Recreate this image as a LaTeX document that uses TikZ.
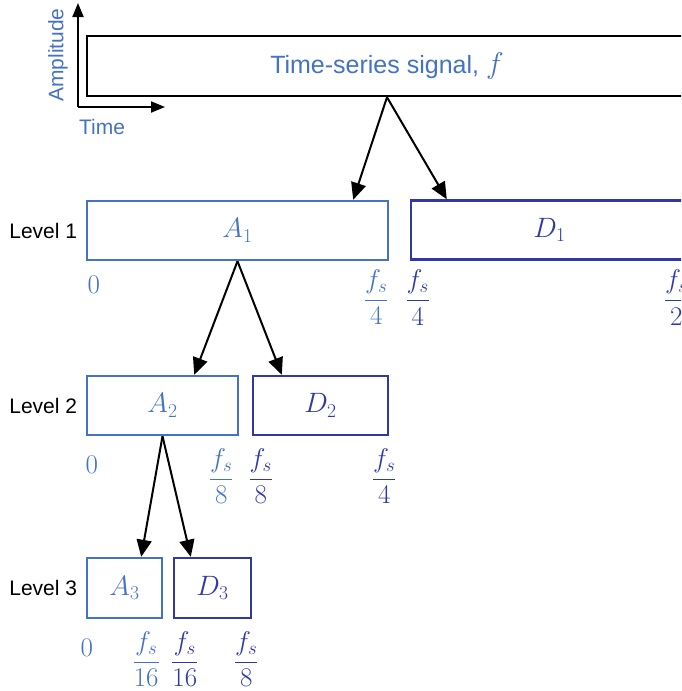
\RequirePackage{fix-cm}
\documentclass[tikz,border=0pt]{standalone}
\usepackage{fontspec}
\setmainfont{Liberation Sans}
\usepackage{tikz}
\usetikzlibrary{positioning,arrows.meta,calc}
\definecolor{wavelow}{HTML}{4472C4}
\definecolor{wavehigh}{HTML}{3038A8}

\begin{document}
\begin{tikzpicture}[
  x=1pt, y=-1pt,
  band/.style={draw, line width=2.4pt, minimum height=59pt, inner sep=0pt, font=\fontsize{28}{32}\selectfont},
  lowb/.style={band, draw=wavelow, text=wavelow},
  highb/.style={band, draw=wavehigh, text=wavehigh},
  arr/.style={-{Triangle[length=17pt,width=15pt]}, line width=2pt, draw=black},
  axarr/.style={-{Triangle[length=14pt,width=11pt]}, line width=2pt, draw=black},
  lvl/.style={font=\fontsize{21}{25}\selectfont, inner sep=0pt},
  ax/.style={font=\fontsize{21}{25}\selectfont, text=wavelow, inner sep=0pt},
  frq/.style={font=\fontsize{27}{31}\selectfont, inner sep=0pt}
]
\clip (0,0) rectangle (681,691);

% signal and axes
\node[draw=black, line width=2.4pt, minimum width=600pt, minimum height=60pt, text=wavelow,
  font=\fontsize{25}{30}\selectfont] (sig) at (387,66) {Time-series signal, {\fontsize{30}{30}\selectfont$f$}};
\coordinate (orig) at (78,107);
\coordinate (ytip) at (78,3);
\coordinate (xtip) at (165,107);
\draw[axarr] (orig) -- (ytip);
\draw[axarr] (orig) -- (xtip);
\node[ax, rotate=90] (amp) at (58,55) {Amplitude};
\node[ax] (time) at (102,127) {Time};

% level 1
\node[lowb, minimum width=301pt] (a1) at (237.5,230.5) {$A_1$};
\node[highb, minimum width=277pt] (d1) at (549.5,230) {$D_1$};
\node[lvl, left=8.5pt of a1] (lv1) {Level 1};
\node[frq, text=wavelow] (a1lo) at ([xshift=8pt,yshift=-24pt]a1.south west) {$0$};
\node[frq, text=wavelow] (a1hi) at ([xshift=-13pt,yshift=-36pt]a1.south east) {$\displaystyle\frac{f_s}{4}$};
\node[frq, text=wavehigh] (d1lo) at ([xshift=8pt,yshift=-37pt]d1.south west) {$\displaystyle\frac{f_s}{4}$};
\node[frq, text=wavehigh] (d1hi) at ([xshift=-13pt,yshift=-37pt]d1.south east) {$\displaystyle\frac{f_s}{2}$};

% level 2
\node[lowb, minimum width=151pt] (a2) at (162.5,405.5) {$A_2$};
\node[highb, minimum width=135pt] (d2) at (320.5,405.5) {$D_2$};
\node[lvl, left=8.5pt of a2] (lv2) {Level 2};
\node[frq, text=wavelow] (a2lo) at ([xshift=6pt,yshift=-29pt]a2.south west) {$0$};
\node[frq, text=wavelow] (a2hi) at ([xshift=-18pt,yshift=-40pt]a2.south east) {$\displaystyle\frac{f_s}{8}$};
\node[frq, text=wavehigh] (d2lo) at ([xshift=9pt,yshift=-40pt]d2.south west) {$\displaystyle\frac{f_s}{8}$};
\node[frq, text=wavehigh] (d2hi) at ([xshift=-5pt,yshift=-40pt]d2.south east) {$\displaystyle\frac{f_s}{4}$};

% level 3
\node[lowb, minimum width=75pt, minimum height=60pt] (a3) at (124.5,588) {$A_3$};
\node[highb, minimum width=77pt, minimum height=60pt] (d3) at (212.5,588) {$D_3$};
\node[lvl, left=8.5pt of a3] (lv3) {Level 3};
\node[frq, text=wavelow] (a3lo) at ([xshift=1pt,yshift=-29pt]a3.south west) {$0$};
\node[frq, text=wavelow] (a3hi) at ([xshift=-17pt,yshift=-40pt]a3.south east) {$\displaystyle\frac{f_s}{16}$};
\node[frq, text=wavehigh] (d3lo) at ([xshift=12pt,yshift=-40pt]d3.south west) {$\displaystyle\frac{f_s}{16}$};
\node[frq, text=wavehigh] (d3hi) at ([xshift=-6pt,yshift=-40pt]d3.south east) {$\displaystyle\frac{f_s}{8}$};

% splits
\draw[arr] (sig.south) -- ([xshift=-36pt]a1.north east);
\draw[arr] (sig.south) -- ([xshift=37pt]d1.north west);
\draw[arr] (a1.south) -- ([xshift=-45pt]a2.north east);
\draw[arr] (a1.south) -- ([xshift=30pt]d2.north west);
\draw[arr] (a2.south) -- ([xshift=-22pt]a3.north east);
\draw[arr] (a2.south) -- ([xshift=18pt]d3.north west);
\end{tikzpicture}
\end{document}
